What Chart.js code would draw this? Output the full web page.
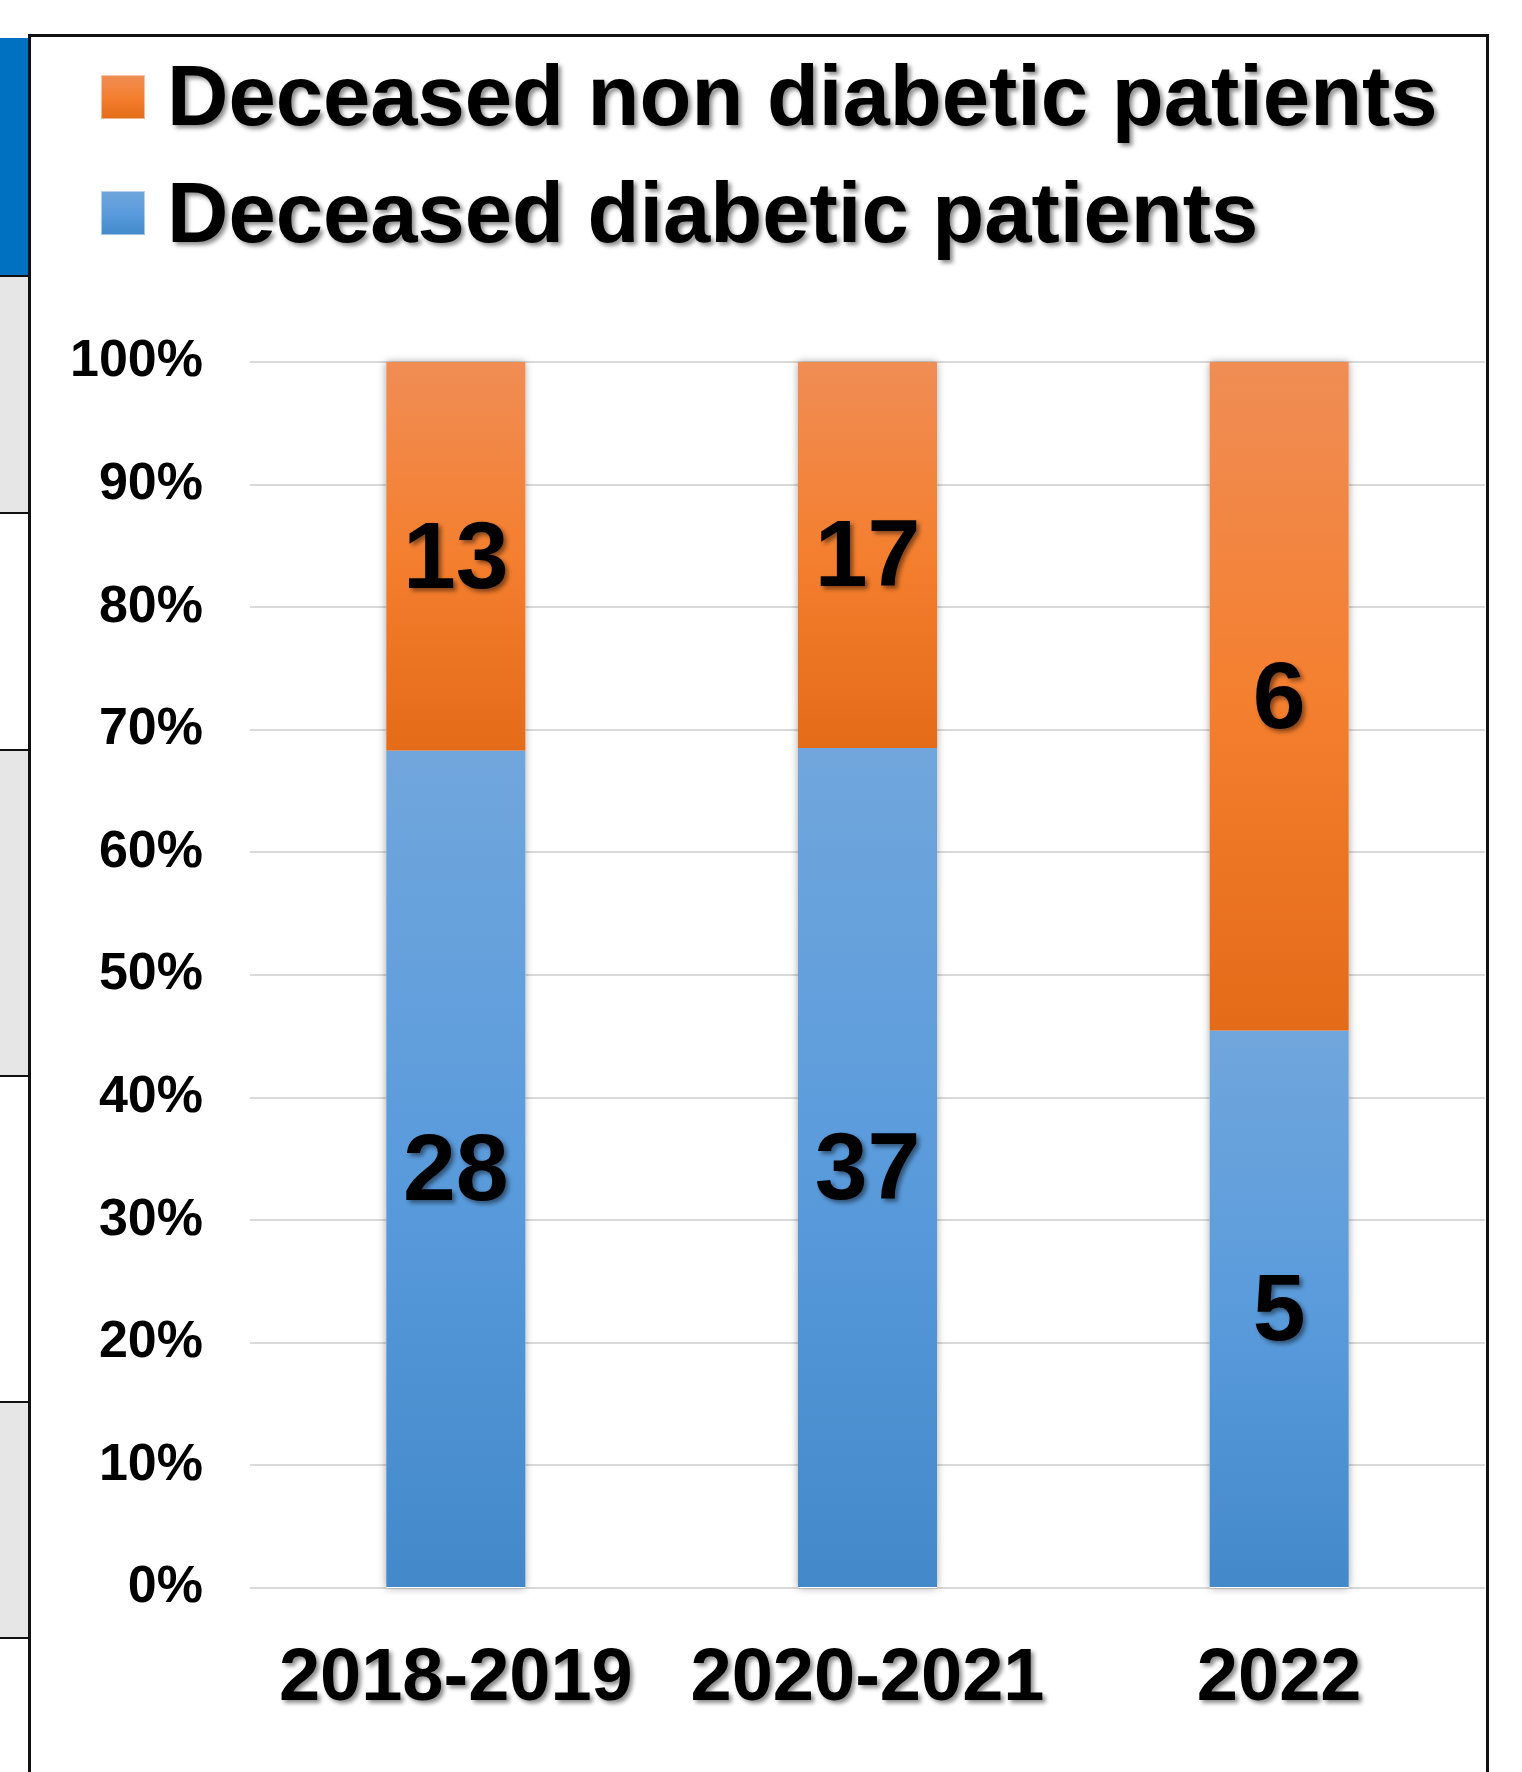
<!DOCTYPE html>
<html>
<head>
<meta charset="utf-8">
<script src="https://cdn.jsdelivr.net/npm/chart.js@4.4.1/dist/chart.umd.min.js"></script>
<style>
  body { margin: 0; background: #fff; }
  #wrap { position: relative; width: 1522px; height: 1772px; overflow: hidden; }
  .cell { position: absolute; left: 0; width: 28px; border-bottom: 2px solid #111; box-sizing: border-box; }
  #frame { position: absolute; left: 28px; top: 34px; width: 1461px; height: 1800px;
           border: 3px solid #111; border-bottom: none; box-sizing: border-box; background: #fff; }
  canvas { position: absolute; left: 0; top: 0; }
</style>
</head>
<body>
<div id="wrap">
  <div class="cell" style="top:38px;height:239px;background:#0070c0;"></div>
  <div class="cell" style="top:277px;height:237px;background:#e6e6e6;"></div>
  <div class="cell" style="top:514px;height:237px;background:#fff;"></div>
  <div class="cell" style="top:751px;height:326px;background:#e6e6e6;"></div>
  <div class="cell" style="top:1077px;height:326px;background:#fff;"></div>
  <div class="cell" style="top:1403px;height:236px;background:#e6e6e6;"></div>
  <div id="frame"></div>
  <canvas id="chart" width="1522" height="1772"></canvas>
</div>
<script>
const periods = ['2018-2019', '2020-2021', '2022'];
const diabetic = [28, 37, 5];
const nonDiabetic = [13, 17, 6];
const yTicks = [0, 10, 20, 30, 40, 50, 60, 70, 80, 90, 100];

const totals = periods.map((p, i) => diabetic[i] + nonDiabetic[i]);
const pctDiabetic = diabetic.map((v, i) => v / totals[i] * 100);
const pctNonDiabetic = nonDiabetic.map((v, i) => v / totals[i] * 100);

const FONT = "'Liberation Sans', Arial, sans-serif";

function barGradient(ctx, top, bottom, stops) {
    const g = ctx.createLinearGradient(0, top, 0, bottom);
    g.addColorStop(0, stops[0]);
    g.addColorStop(0.5, stops[1]);
    g.addColorStop(1, stops[2]);
    return g;
}
const blueStops = ['#70a6dc', '#5a9bdc', '#4389c9'];
const orangeStops = ['#f08d55', '#f47f2f', '#e46b18'];

function segmentFill(stops, lowFn, highFn) {
    return function (context) {
        const chart = context.chart;
        const y = chart.scales.y;
        if (!chart.chartArea || !y || context.dataIndex === undefined) return stops[1];
        const i = context.dataIndex;
        const top = y.getPixelForValue(highFn(i));
        const bottom = y.getPixelForValue(lowFn(i));
        return barGradient(chart.ctx, top, bottom, stops);
    };
}

// soft shadow behind each whole stacked column
const columnShadow = {
    id: 'columnShadow',
    beforeDatasetsDraw(chart) {
        const ctx = chart.ctx;
        const meta = chart.getDatasetMeta(0);
        const y = chart.scales.y;
        ctx.save();
        ctx.shadowColor = 'rgba(0,0,0,0.35)';
        ctx.shadowBlur = 8;
        ctx.fillStyle = '#fff';
        meta.data.forEach(bar => {
            const w = bar.width;
            const top = y.getPixelForValue(100);
            const bottom = y.getPixelForValue(0);
            ctx.fillRect(bar.x - w / 2, top, w, bottom - top);
        });
        ctx.restore();
    }
};

function shadowText(ctx) {
    ctx.shadowColor = 'rgba(0,0,0,0.45)';
    ctx.shadowBlur = 4;
    ctx.shadowOffsetX = 3;
    ctx.shadowOffsetY = 3;
}

const countLabels = {
    id: 'countLabels',
    afterDatasetsDraw(chart) {
        const ctx = chart.ctx;
        const counts = [diabetic, nonDiabetic];
        ctx.save();
        shadowText(ctx);
        ctx.fillStyle = '#000';
        ctx.font = 'bold 95px ' + FONT;
        ctx.textAlign = 'center';
        ctx.textBaseline = 'middle';
        chart.data.datasets.forEach((ds, d) => {
            chart.getDatasetMeta(d).data.forEach((bar, i) => {
                ctx.fillText(String(counts[d][i]), bar.x, (bar.y + bar.base) / 2 + 5);
            });
        });
        ctx.restore();
    }
};

const categoryLabels = {
    id: 'categoryLabels',
    afterDraw(chart) {
        const ctx = chart.ctx;
        const x = chart.scales.x;
        ctx.save();
        shadowText(ctx);
        ctx.fillStyle = '#000';
        ctx.font = 'bold 74px ' + FONT;
        ctx.textAlign = 'center';
        ctx.textBaseline = 'alphabetic';
        periods.forEach((p, i) => {
            ctx.fillText(p, x.getPixelForValue(i), chart.chartArea.bottom + 112);
        });
        ctx.restore();
    }
};

const topLegend = {
    id: 'topLegend',
    afterDraw(chart) {
        const ctx = chart.ctx;
        const items = [
            { ds: chart.data.datasets[1], stops: orangeStops },
            { ds: chart.data.datasets[0], stops: blueStops }
        ];
        items.forEach((it, k) => {
            const bx = 101, by = 75 + k * 116, s = 44;
            ctx.save();
            ctx.fillStyle = barGradient(ctx, by, by + s, it.stops);
            ctx.fillRect(bx, by, s, s);
            ctx.strokeStyle = 'rgba(255,255,255,0.5)';
            ctx.lineWidth = 1;
            ctx.strokeRect(bx + 0.5, by + 0.5, s - 1, s - 1);
            shadowText(ctx);
            ctx.fillStyle = '#000';
            ctx.font = 'bold 85px ' + FONT;
            ctx.textAlign = 'left';
            ctx.textBaseline = 'alphabetic';
            ctx.fillText(it.ds.label, 167, 125 + k * 117);
            ctx.restore();
        });
    }
};

const data = {
    labels: periods,
    datasets: [{
        label: 'Deceased diabetic patients',
        data: pctDiabetic,
        backgroundColor: segmentFill(blueStops, i => 0, i => pctDiabetic[i]),
        borderWidth: 0
    },
    {
        label: 'Deceased non diabetic patients',
        data: pctNonDiabetic,
        backgroundColor: segmentFill(orangeStops, i => pctDiabetic[i], i => 100),
        borderWidth: 0
    }]
};

const config = {
    type: 'bar',
    data,
    options: {
        responsive: false,
        animation: false,
        layout: {
            padding: { top: 362, right: 37, bottom: 176, left: 0 }
        },
        plugins: {
            legend: { display: false },
            tooltip: { enabled: false }
        },
        datasets: {
            bar: { categoryPercentage: 1, barPercentage: 0.338 }
        },
        scales: {
            x: {
                stacked: true,
                grid: { display: false },
                border: { display: false },
                ticks: { display: false }
            },
            y: {
                stacked: true,
                min: 0,
                max: 100,
                afterFit(scale) { scale.width = 250; },
                afterBuildTicks(scale) { scale.ticks = yTicks.map(v => ({ value: v })); },
                grid: { color: '#d9d9d9', lineWidth: 2, drawTicks: false },
                border: { display: false },
                ticks: {
                    padding: 47,
                    color: '#000',
                    font: { family: FONT, size: 52, weight: 'bold' },
                    callback: v => v + '%'
                }
            }
        }
    },
    plugins: [columnShadow, countLabels, categoryLabels, topLegend]
};

var chart = document.getElementById('chart');
var myChart = new Chart(chart, config);
</script>
</body>
</html>
